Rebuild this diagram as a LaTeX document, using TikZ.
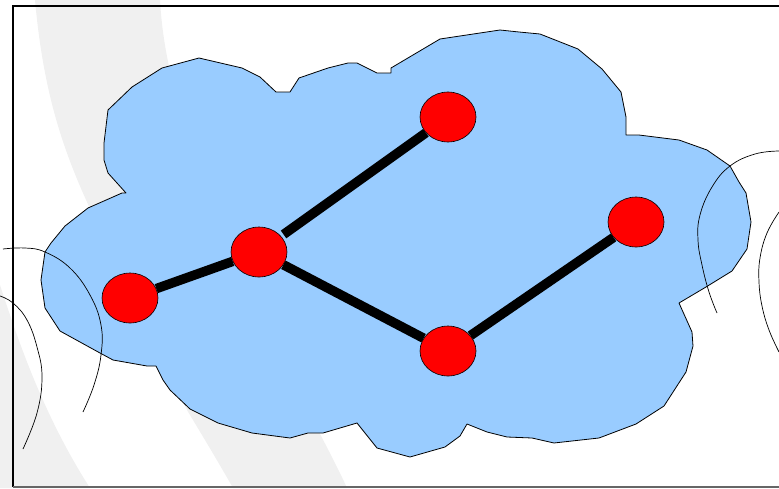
\documentclass[tikz,border=0pt]{standalone}
\usetikzlibrary{shapes.geometric}
\definecolor{cloudblue}{HTML}{99CCFF}
\definecolor{swoosh}{HTML}{F0F0F0}
\pgfdeclarelayer{bg}
\pgfdeclarelayer{edges}
\pgfsetlayers{bg,edges,main}
\tikzset{
  vertex/.style={ellipse, draw=black, line width=0.6pt, fill=red, minimum width=56pt, minimum height=50pt, inner sep=0pt},
  edge/.style={line width=9.5pt, black},
  thinarc/.style={draw=black, line width=0.7pt},
  cloud/.style={fill=cloudblue, draw=black, line width=0.8pt, line join=round}
}
\begin{document}
\begin{tikzpicture}[x=1pt,y=-1pt]
\useasboundingbox (0,0) rectangle (779,488);
\begin{pgfonlayer}{bg}
% background swooshes
\fill[swoosh] (35,0) .. controls (45,110) and (70,170) .. (110,250)
  -- (187,410) .. controls (205,440) and (220,465) .. (233,488)
  -- (347,488) .. controls (330,450) and (300,400) .. (270,330)
  .. controls (200,180) and (165,90) .. (160,0) -- cycle;
\fill[swoosh] (0,285) .. controls (15,330) and (40,410) .. (90,488) -- (0,488) -- cycle;
% frame
\draw[black, line width=1.2pt] (779,6) -- (13,6) -- (13,487);
\draw[black!60, line width=2pt] (13,487) -- (779,487);
% cloud
\path[cloud] (147,366) -- (156,366) -- (163,380) -- (170,390) -- (190,409) -- (218,423)
 -- (252,433) -- (290,438) -- (308,433) -- (323,433) -- (357,423) -- (377,448)
 -- (410,457) -- (445,447) -- (460,436) -- (467,424) -- (487,432) -- (507,437)
 -- (532,438) -- (554,443) -- (599,438) -- (636,424) -- (664,406) -- (686,372)
 -- (693,346) -- (692,332) -- (679,303) -- (706,287) -- (732,271) -- (747,249)
 -- (751,222) -- (746,193) -- (739,182) -- (730,166) -- (707,150) -- (679,140)
 -- (639,135) -- (626,135) -- (626,117) -- (621,92) -- (602,69) -- (578,49)
 -- (540,34) -- (519,32) -- (500,30) -- (440,39) -- (391,68) -- (391,73)
 -- (377,73) -- (357,63) -- (348,63) -- (328,68) -- (299,78) -- (290,92)
 -- (276,92) -- (260,77) -- (242,68) -- (199,58) -- (162,68) -- (132,87)
 -- (108,110) -- (104,143) -- (104,160) -- (108,173) -- (126,193) -- (122,193)
 -- (88,208) -- (65,226) -- (51,243) -- (45,252) -- (41,280) -- (45,308)
 -- (60,331) -- (100,353) -- (113,360) -- cycle;
% thin arcs
\draw[thinarc] plot[smooth, tension=0.7] coordinates {(3,249) (25,248) (45,252) (70,268) (90,295) (101,325) (101,355) (94,385) (83,412)};
\draw[thinarc] plot[smooth, tension=0.7] coordinates {(0,296) (13,303) (27,320) (37,347) (42,377) (37,413) (23,449)};
\draw[thinarc] plot[smooth, tension=0.7] coordinates {(779,151) (755,154) (730,166) (712,187) (700,215) (698,240) (702,265) (709,292) (717,313)};
\draw[thinarc] plot[smooth, tension=0.7] coordinates {(779,212) (767,233) (760,258) (759,282) (762,306) (769,330) (779,352)};
\end{pgfonlayer}
% nodes
\node[vertex] (top) at (448,117) {};
\node[vertex] (mid) at (259,252) {};
\node[vertex] (left) at (130,298) {};
\node[vertex] (bot) at (448,351) {};
\node[vertex] (right) at (636,222) {};
% edges (behind nodes)
\begin{pgfonlayer}{edges}
\draw[edge, shorten <=3pt] (mid) -- (top);
\draw[edge] (mid) -- (left);
\draw[edge] (mid) -- (bot);
\draw[edge] (bot) -- (right);
\end{pgfonlayer}
\end{tikzpicture}
\end{document}
